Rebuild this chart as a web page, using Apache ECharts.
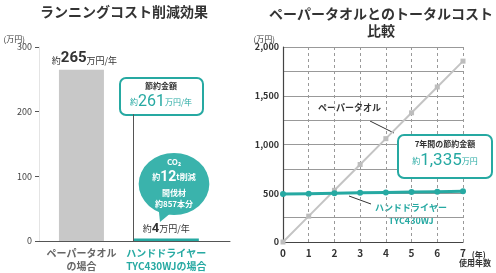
<!DOCTYPE html>
<html><head><meta charset="utf-8">
<script src="https://cdn.jsdelivr.net/npm/echarts@6/dist/echarts.min.js"></script>
<style>html,body{margin:0;padding:0;background:#fff}#c{width:496px;height:273px}</style>
</head><body><div id="c"></div>
<script>
// ---- data ----
var leftCategories = ['ペーパータオル\nの場合', 'ハンドドライヤー\nTYC430WJの場合'];
var leftCatPos = [0.5, 1.5];
var annualCost = [265, 4];          // 万円/年
var leftYTicks = [0, 100, 200, 300];
var years = [0, 1, 2, 3, 4, 5, 6, 7];
var paperTotal = [0, 265, 530, 795, 1060, 1325, 1590, 1855];
var dryerTotal = [492, 496, 500, 504, 508, 512, 516, 520];
var saving7y = '1,335';
var savingYear = 261;

var TEAL = '#26a9a2';
var FONT = '"Noto Sans CJK JP", "Noto Sans", sans-serif';
var DARK = '#333';

var chart = echarts.init(document.getElementById('c'));

function fmtNum(v){ return String(v).replace(/\B(?=(\d{3})+(?!\d))/g, ','); }

var leftX = { gridIndex: 0, type: 'value', min: 0, max: 2.25, interval: 0.5,
      splitLine: { show: false }, axisTick: { show: false },
      axisLine: { show: true, lineStyle: { color: '#555', width: 1 } },
      axisLabel: { margin: 6, fontSize: 10, lineHeight: 13, fontWeight: 'bold',
        formatter: function(v){ var i = leftCatPos.indexOf(v); if (i < 0) return ''; var k = i === 0 ? 'g' : 't'; return leftCategories[i].split('\n').map(function(s){ return '{' + k + '|' + s + '}'; }).join('\n'); },
        rich: { g: { color: '#666', fontSize: 10, fontWeight: 'bold', lineHeight: 13, fontFamily: FONT },
                t: { color: TEAL, fontSize: 10, fontWeight: 'bold', lineHeight: 13, fontFamily: FONT } } } };

var option = {
  animation: false,
  textStyle: { fontFamily: FONT },
  grid: [
    { left: 39, top: 47, width: 191, height: 196 },
    { left: 283, top: 47, width: 180, height: 195 }
  ],
  xAxis: [
    leftX,
    { gridIndex: 1, type: 'value', min: 0, max: 7, interval: 1,
      name: '(年)', nameLocation: 'end', nameGap: 6,
      nameTextStyle: { fontSize: 8, color: DARK, verticalAlign: 'top', padding: [9, 0, 0, 0], fontWeight: 'bold' },
      axisLine: { show: true, lineStyle: { color: '#444', width: 1.2 } },
      axisTick: { show: false },
      axisLabel: { fontSize: 10, color: DARK, margin: 6, fontWeight: 'bold' },
      splitLine: { show: true, lineStyle: { color: '#999', type: [3, 3], width: 1 } } },
    { gridIndex: 0, type: 'value', min: 0, max: 2.25, show: false, splitLine: { show: false } }
  ],
  yAxis: [
    { gridIndex: 0, type: 'value', min: 0, max: 300, interval: 100,
      name: '(万円)', nameLocation: 'end', nameGap: 4,
      nameTextStyle: { fontSize: 8, color: DARK, align: 'right', padding: [0, 14, 0, 0] },
      axisLine: { show: true, lineStyle: { color: '#e4e4e4' } },
      axisTick: { show: true, length: 4, lineStyle: { color: '#555' } },
      axisLabel: { fontSize: 9, color: '#444', margin: 7 },
      splitLine: { show: false } },
    { gridIndex: 1, type: 'value', min: 0, max: 2000, interval: 250,
      name: '(万円)', nameLocation: 'end', nameGap: 4,
      nameTextStyle: { fontSize: 8, color: DARK, align: 'right', padding: [0, 8, 0, 0] },
      axisLine: { show: true, lineStyle: { color: '#444', width: 1.2 } },
      axisTick: { show: false },
      axisLabel: { fontSize: 9, color: DARK, margin: 4, fontWeight: 'bold',
        formatter: function(v){ return v % 500 === 0 ? fmtNum(v) : ''; } },
      splitLine: { show: true, lineStyle: { color: '#999', width: 1 } } }
  ],
  series: [
    { type: 'bar', xAxisIndex: 0, yAxisIndex: 0, barWidth: 45,
      data: [[leftCatPos[0], annualCost[0]]],
      itemStyle: { color: '#c8c8c8' },
      label: { show: true, position: 'top', distance: 4, offset: [3, 0],
        formatter: '{s|約}{b|' + annualCost[0] + '}{s|万円/年}',
        rich: { s: { fontSize: 9, color: DARK, fontFamily: FONT, verticalAlign: 'bottom', padding: [0,0,1,0] },
                b: { fontSize: 15, fontWeight: 'bold', color: DARK, fontFamily: 'Roboto, sans-serif' } } } },
    { type: 'bar', xAxisIndex: 2, yAxisIndex: 0, barWidth: 65,
      data: [[leftCatPos[1], annualCost[1]]],
      itemStyle: { color: TEAL },
      label: { show: true, position: 'top', distance: 3,
        formatter: '{s|約}{b|' + annualCost[1] + '}{s|万円/年}',
        rich: { s: { fontSize: 9, color: DARK, fontFamily: FONT },
                b: { fontSize: 13, fontWeight: 'bold', color: DARK, fontFamily: 'Roboto, sans-serif' } } },
      markLine: { symbol: 'none', silent: true, label: { show: false },
        lineStyle: { color: '#555', type: 'solid', width: 1 },
        data: [[{ coord: [1.107, 0] }, { coord: [1.107, 196] }]] } },
    { type: 'line', xAxisIndex: 1, yAxisIndex: 1, name: 'ペーパータオル',
      data: years.map(function(y, i){ return [y, paperTotal[i]]; }),
      symbol: 'rect', symbolSize: 5,
      lineStyle: { color: '#c4c4c4', width: 2 },
      itemStyle: { color: '#bdbdbd' } },
    { type: 'line', xAxisIndex: 1, yAxisIndex: 1, name: 'ハンドドライヤー TYC430WJ',
      data: years.map(function(y, i){ return [y, dryerTotal[i]]; }),
      symbol: 'circle', symbolSize: 6,
      lineStyle: { color: TEAL, width: 3 },
      itemStyle: { color: TEAL } }
  ],
  graphic: [
    // titles
    { type: 'text', x: 124, y: 5, style: { text: 'ランニングコスト削減効果', font: 'bold 14px ' + FONT, fill: DARK, textAlign: 'center' } , z: 10},
    { type: 'text', x: 381, y: 5, style: { text: 'ペーパータオルとのトータルコスト\n比較', font: 'bold 14px ' + FONT, fill: DARK, textAlign: 'center', lineHeight: 17 } },
    // left callout box
    { type: 'rect', shape: { x: 120, y: 78, width: 83, height: 37, r: 6 }, style: { fill: '#fff', stroke: TEAL, lineWidth: 2 }, z: 5 },
    { type: 'text', x: 161, y: 82, z: 6, style: { text: '節約金額', font: 'bold 8px ' + FONT, fill: DARK, textAlign: 'center' } },
    { type: 'text', x: 161, y: 94, z: 6, style: { text: '{s|約}{b|' + savingYear + '}{s|万円/年}', textAlign: 'center',
        rich: { s: { fontSize: 8, fill: TEAL, fontFamily: FONT }, b: { fontSize: 16, fill: TEAL, fontFamily: 'Roboto, sans-serif' } } } },
    // CO2 bubble
    { type: 'polygon', shape: { points: [[158, 203], [172, 212], [160, 222]] }, style: { fill: '#3ab3ac' }, z: 5 },
    { type: 'circle', shape: { cx: 0, cy: 0, r: 31 }, x: 174, y: 184, scaleX: 1.14, style: { fill: '#3ab3ac' }, z: 5 },
    { type: 'text', x: 174, y: 158, z: 6, style: { text: 'CO₂', font: 'bold 8px ' + FONT, fill: '#fff', textAlign: 'center' } },
    { type: 'text', x: 174, y: 170, z: 6, style: { text: '{s|約}{b|12}{s|t削減}', textAlign: 'center',
        rich: { s: { fontSize: 8, fill: '#fff', fontWeight: 'bold', fontFamily: FONT }, b: { fontSize: 14, fontWeight: 'bold', fill: '#fff', fontFamily: 'Roboto, sans-serif' } } } },
    { type: 'text', x: 174, y: 189, z: 6, style: { text: '間伐材', font: 'bold 8px ' + FONT, fill: '#fff', textAlign: 'center' } },
    { type: 'text', x: 174, y: 200, z: 6, style: { text: '約857本分', font: 'bold 8px ' + FONT, fill: '#fff', textAlign: 'center' } },
    // right annotations
    { type: 'text', x: 318, y: 103, style: { text: 'ペーパータオル', font: 'bold 9px ' + FONT, fill: DARK } },
    { type: 'line', shape: { x1: 370, y1: 121, x2: 394, y2: 133 }, style: { stroke: '#333', lineWidth: 1 } },
    { type: 'text', x: 411, y: 201, style: { text: 'ハンドドライヤー\nTYC430WJ', font: 'bold 9px ' + FONT, fill: TEAL, textAlign: 'center', lineHeight: 13 } },
    { type: 'line', shape: { x1: 349, y1: 196, x2: 371, y2: 204 }, style: { stroke: '#333', lineWidth: 1 } },
    { type: 'rect', shape: { x: 398, y: 135, width: 94, height: 43, r: 6 }, style: { fill: '#fff', stroke: TEAL, lineWidth: 2 }, z: 5 },
    { type: 'text', x: 445, y: 140, z: 6, style: { text: '7年間の節約金額', font: 'bold 8px ' + FONT, fill: DARK, textAlign: 'center' } },
    { type: 'text', x: 445, y: 152, z: 6, style: { text: '{s|約}{b|' + saving7y + '}{s|万円}', textAlign: 'center',
        rich: { s: { fontSize: 8, fill: TEAL, fontFamily: FONT }, b: { fontSize: 17, fill: TEAL, fontFamily: 'Roboto, sans-serif' } } } },
    { type: 'text', x: 475, y: 259, style: { text: '使用年数', font: 'bold 8px ' + FONT, fill: DARK, textAlign: 'center' } }
  ]
};
chart.setOption(option);
</script>
</body></html>
